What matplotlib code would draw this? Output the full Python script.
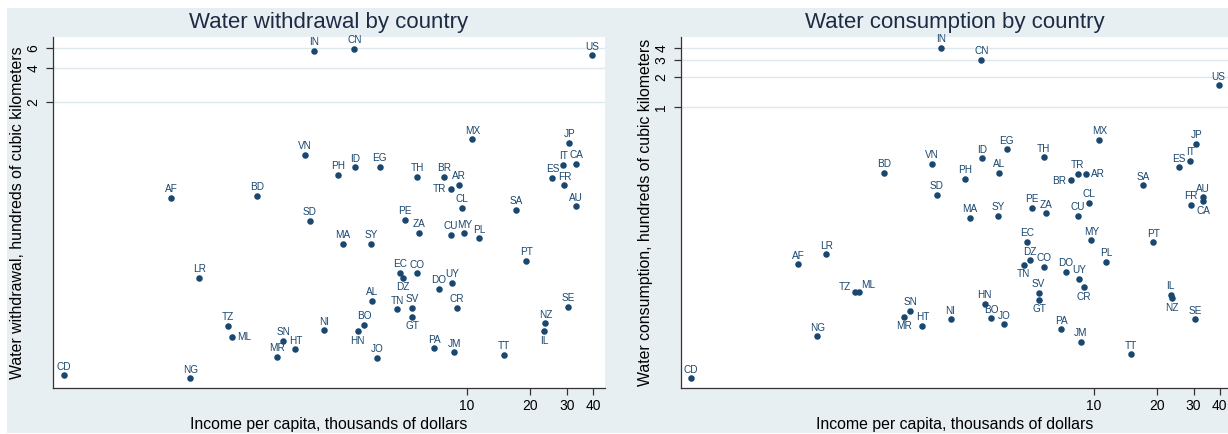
import matplotlib
matplotlib.use("Agg")
import matplotlib.pyplot as plt
from matplotlib.patches import Rectangle

plt.rcParams["font.family"] = ["Liberation Sans", "DejaVu Sans"]

COUNTRIES = [
    "IN", "CN", "US", "MX", "JP", "IT", "CA", "ES", "FR", "AU",
    "SA", "CL", "TR", "AR", "BR", "TH", "EG", "ID", "PH", "VN",
    "AF", "BD", "SD", "PE", "ZA", "CU", "MY", "PL", "MA", "SY",
    "PT", "EC", "DZ", "CO", "UY", "DO", "AL", "TN", "SV", "GT",
    "CR", "SE", "NZ", "IL", "NI", "BO", "HN", "JO", "PA", "JM",
    "TT", "LR", "TZ", "ML", "SN", "HT", "MR", "CD", "NG",
]
# thousands of dollars per capita
INCOME = [
    1.86, 2.89, 39.5, 10.6, 30.9, 28.9, 33.3, 25.6, 29.2, 33.2,
    17.2, 9.43, 8.38, 9.19, 7.76, 5.76, 3.82, 2.92, 2.41, 1.68,
    0.383, 0.986, 1.77, 5.03, 5.89, 8.36, 9.71, 11.45, 2.55, 3.47,
    19.2, 4.78, 4.94, 5.78, 8.51, 7.32, 3.51, 4.62, 5.44, 5.46,
    8.93, 30.5, 23.7, 23.3, 2.06, 3.23, 3.00, 3.70, 6.98, 8.67,
    15.0, 0.524, 0.721, 0.748, 1.32, 1.51, 1.23, 0.1175, 0.474,
]
# hundreds of cubic kilometers
WITHDRAWAL = [
    5.65, 5.85, 5.15, 0.950, 0.882, 0.566, 0.578, 0.438, 0.376, 0.2465,
    0.229, 0.238, 0.349, 0.378, 0.445, 0.445, 0.544, 0.541, 0.466, 0.692,
    0.291, 0.303, 0.1845, 0.188, 0.144, 0.139, 0.143, 0.1295, 0.116, 0.1154,
    0.082, 0.0644, 0.0586, 0.064, 0.053, 0.0467, 0.0366, 0.031, 0.032, 0.02656,
    0.0318, 0.0327, 0.0235, 0.0199, 0.0203, 0.0228, 0.020, 0.0117, 0.01415, 0.01305,
    0.01236, 0.0582, 0.02216, 0.01786, 0.01639, 0.01387, 0.01195, 0.00821, 0.00773,
]
CONSUMPTION = [
    3.97, 3.03, 1.67, 0.467, 0.426, 0.289, 0.1123, 0.249, 0.1038, 0.1233,
    0.163, 0.108, 0.212, 0.2135, 0.183, 0.3126, 0.3764, 0.3054, 0.190, 0.2694,
    0.02595, 0.217, 0.131, 0.0961, 0.0846, 0.0798, 0.0453, 0.02738, 0.0767, 0.0807,
    0.0433, 0.0439, 0.0285, 0.02437, 0.01843, 0.02185, 0.2185, 0.0257, 0.0134, 0.01139,
    0.0152, 0.00722, 0.01177, 0.0127, 0.00722, 0.00739, 0.01038, 0.00643, 0.00572, 0.00426,
    0.0032, 0.03275, 0.01353, 0.01353, 0.00882, 0.00622, 0.00767, 0.00183, 0.00486,
]

X_TICKS = [10, 20, 30, 40]
LEFT_Y_TICKS = [2, 4, 6]
RIGHT_Y_TICKS = [1, 2, 3, 4]

# label clock positions (default 12 = above)
LEFT_POS = {"TR": 9, "ML": 3, "DZ": 6, "GT": 6, "IL": 6, "HN": 6}
RIGHT_POS = {"AR": 3, "BR": 9, "CA": 6, "TN": 6, "CR": 6, "GT": 6,
             "NZ": 6, "MR": 6, "TZ": 10, "ML": 2}

NAVY = "#1A476F"
BG = "#E8EFF2"
GRID = "#DDE7EC"
TITLE_C = "#1E2B45"

OFFSETS = {
    12: (0, 4.0, "center"),
    6: (0, -9.0, "center"),
    9: (-3.7, -2.5, "right"),
    3: (3.7, -2.5, "left"),
    10: (-3.3, 1.8, "right"),
    2: (1.8, 2.9, "left"),
}


def _panel(ax, yvals, pos, title, ylabel, yticks, xlim, ylim):
    ax.set_xscale("log")
    ax.set_yscale("log")
    ax.scatter(INCOME, yvals, s=22, color=NAVY, linewidths=0, zorder=3)
    for c, x, y in zip(COUNTRIES, INCOME, yvals):
        dx, dy, ha = OFFSETS[pos.get(c, 12)]
        ax.annotate(c, (x, y), xytext=(dx, dy), textcoords="offset points",
                    ha=ha, va="baseline", fontsize=7.2, color=NAVY, zorder=4)
    ax.set_xlim(*xlim)
    ax.set_ylim(*ylim)
    ax.set_xticks(X_TICKS)
    ax.set_xticklabels([str(t) for t in X_TICKS])
    ax.set_yticks(yticks)
    ax.set_yticklabels([str(t) for t in yticks])
    ax.minorticks_off()
    ax.tick_params(axis="both", labelsize=10, length=5, width=0.9, color="#333333")
    ax.tick_params(axis="x", pad=3)
    ax.tick_params(axis="y", labelrotation=90, pad=4)
    for lab in ax.get_yticklabels():
        lab.set_va("center")
    ax.grid(axis="y", color=GRID, linewidth=1.0)
    ax.set_axisbelow(True)
    for side in ("top", "right"):
        ax.spines[side].set_visible(False)
    for side in ("left", "bottom"):
        ax.spines[side].set_color("#333333")
        ax.spines[side].set_linewidth(0.9)
    ax.set_facecolor("white")
    ax.set_title(title, fontsize=16, color=TITLE_C, pad=6.5)
    ax.set_xlabel("Income per capita, thousands of dollars", fontsize=11.4, labelpad=3)
    ax.set_ylabel(ylabel, fontsize=11.4, labelpad=1)


def main():
    W, H = 1228, 434
    fig = plt.figure(figsize=(W / 100, H / 100), dpi=100)
    fig.patch.set_facecolor("white")
    bg = Rectangle((7 / W, 1 / H), 1 - 7 / W, (H - 9) / H,
                   transform=fig.transFigure, facecolor=BG,
                   edgecolor="none", zorder=-10)
    fig.add_artist(bg)

    ax1 = fig.add_axes([53 / W, (H - 388) / H, (605 - 53) / W, (388 - 37) / H])
    ax2 = fig.add_axes([680.7 / W, (H - 388) / H, (W - 680.7) / W, (388 - 37) / H])

    _panel(ax1, WITHDRAWAL, LEFT_POS, "Water withdrawal by country",
           "Water withdrawal, hundreds of cubic kilometers", LEFT_Y_TICKS,
           (0.1045, 45.7), (0.00636, 7.44))
    _panel(ax2, CONSUMPTION, RIGHT_POS, "Water consumption by country",
           "Water consumption, hundreds of cubic kilometers", RIGHT_Y_TICKS,
           (0.1053, 43.8), (0.00146, 5.13))

    fig.savefig("out.png", dpi=100, facecolor=fig.get_facecolor())
    plt.close(fig)


if __name__ == "__main__":
    main()
